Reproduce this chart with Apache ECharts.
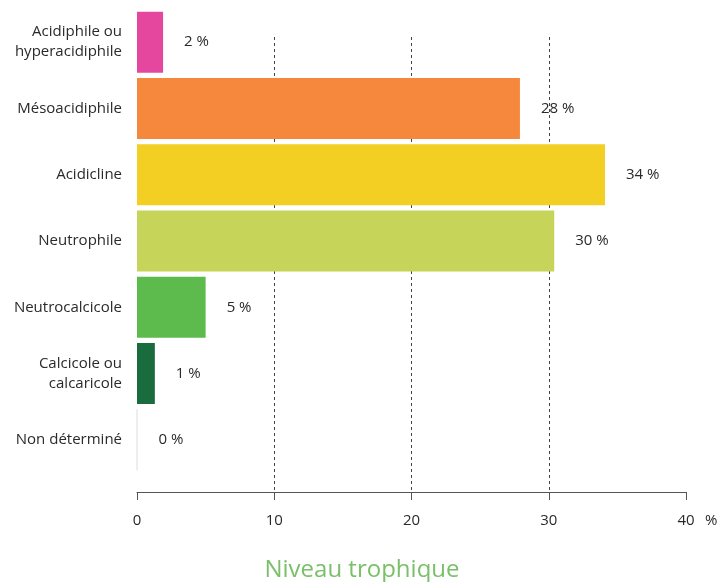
<!DOCTYPE html>
<html>
<head>
<meta charset="utf-8">
<script src="https://cdn.jsdelivr.net/npm/echarts@6/dist/echarts.min.js"></script>
<style>
  html, body { margin: 0; padding: 0; background: #fff; }
  #chart { width: 724px; height: 582px; }
</style>
</head>
<body>
<div id="chart"></div>
<script>
const categories = [
  'Acidiphile ou\nhyperacidiphile',
  'Mésoacidiphile',
  'Acidicline',
  'Neutrophile',
  'Neutrocalcicole',
  'Calcicole ou\ncalcaricole',
  'Non déterminé'
];
const values = [1.9, 27.9, 34.1, 30.4, 5.0, 1.3, 0];
const valueLabels = ['2', '28', '34', '30', '5', '1', '0'];
const xTicks = [0, 10, 20, 30, 40];

const palette = ['#e5479e', '#f5883d', '#f3cf24', '#c7d45a', '#5dbb4d', '#1a6b3e', '#ffffff'];
const font = '"Open Sans", "Liberation Sans", sans-serif';
const textColor = '#2a2a2a';

const chart = echarts.init(document.getElementById('chart'));

const option = {
  backgroundColor: '#fff',
  animation: false,
  title: {
    text: 'Niveau trophique',
    left: 'center',
    top: 553,
    textStyle: { color: '#79c068', fontSize: 24, fontWeight: 'normal', fontFamily: font }
  },
  grid: [
    { left: 137, right: 38, top: 9, height: 464 },
    { left: 137, right: 38, top: 37, bottom: 90 }
  ],
  xAxis: [
    { gridIndex: 0, type: 'value', min: 0, max: 40, show: false },
    {
      gridIndex: 1,
      type: 'value',
      min: xTicks[0],
      max: xTicks[xTicks.length - 1],
      interval: 10,
      name: '%',
      nameLocation: 'end',
      nameGap: 19,
      nameTextStyle: { color: textColor, fontSize: 15, fontFamily: font, verticalAlign: 'top', padding: [21, 0, 0, 0] },
      axisLine: { show: true, lineStyle: { color: '#555', width: 1 } },
      axisTick: { show: true, inside: false, length: 8, lineStyle: { color: '#555' } },
      axisLabel: { color: textColor, fontSize: 15, fontFamily: font, margin: 21 },
      splitLine: {
        show: true,
        showMinLine: false,
        showMaxLine: false,
        lineStyle: { color: '#444', type: [3, 3], width: 1 }
      }
    }
  ],
  yAxis: [
    {
      gridIndex: 0,
      type: 'category',
      data: categories,
      inverse: true,
      axisLine: { show: false },
      axisTick: { show: false },
      axisLabel: { color: textColor, fontSize: 15, fontFamily: font, margin: 15, lineHeight: 20, align: 'right' }
    },
    { gridIndex: 1, type: 'value', show: false, min: 0, max: 1 }
  ],
  series: [
    {
      type: 'bar',
      xAxisIndex: 0,
      yAxisIndex: 0,
      data: values.map((v, i) => ({
        value: v,
        itemStyle: i === values.length - 1
          ? { color: palette[i], borderColor: '#e8e8e8', borderWidth: 1 }
          : { color: palette[i] }
      })),
      barCategoryGap: '8%',
      label: {
        show: true,
        position: 'right',
        distance: 21,
        color: textColor,
        fontSize: 15,
        fontFamily: font,
        formatter: p => valueLabels[p.dataIndex] + ' %'
      },
      z: 3
    },
    { type: 'scatter', xAxisIndex: 1, yAxisIndex: 1, data: [] }
  ]
};

chart.setOption(option);
</script>
</body>
</html>
